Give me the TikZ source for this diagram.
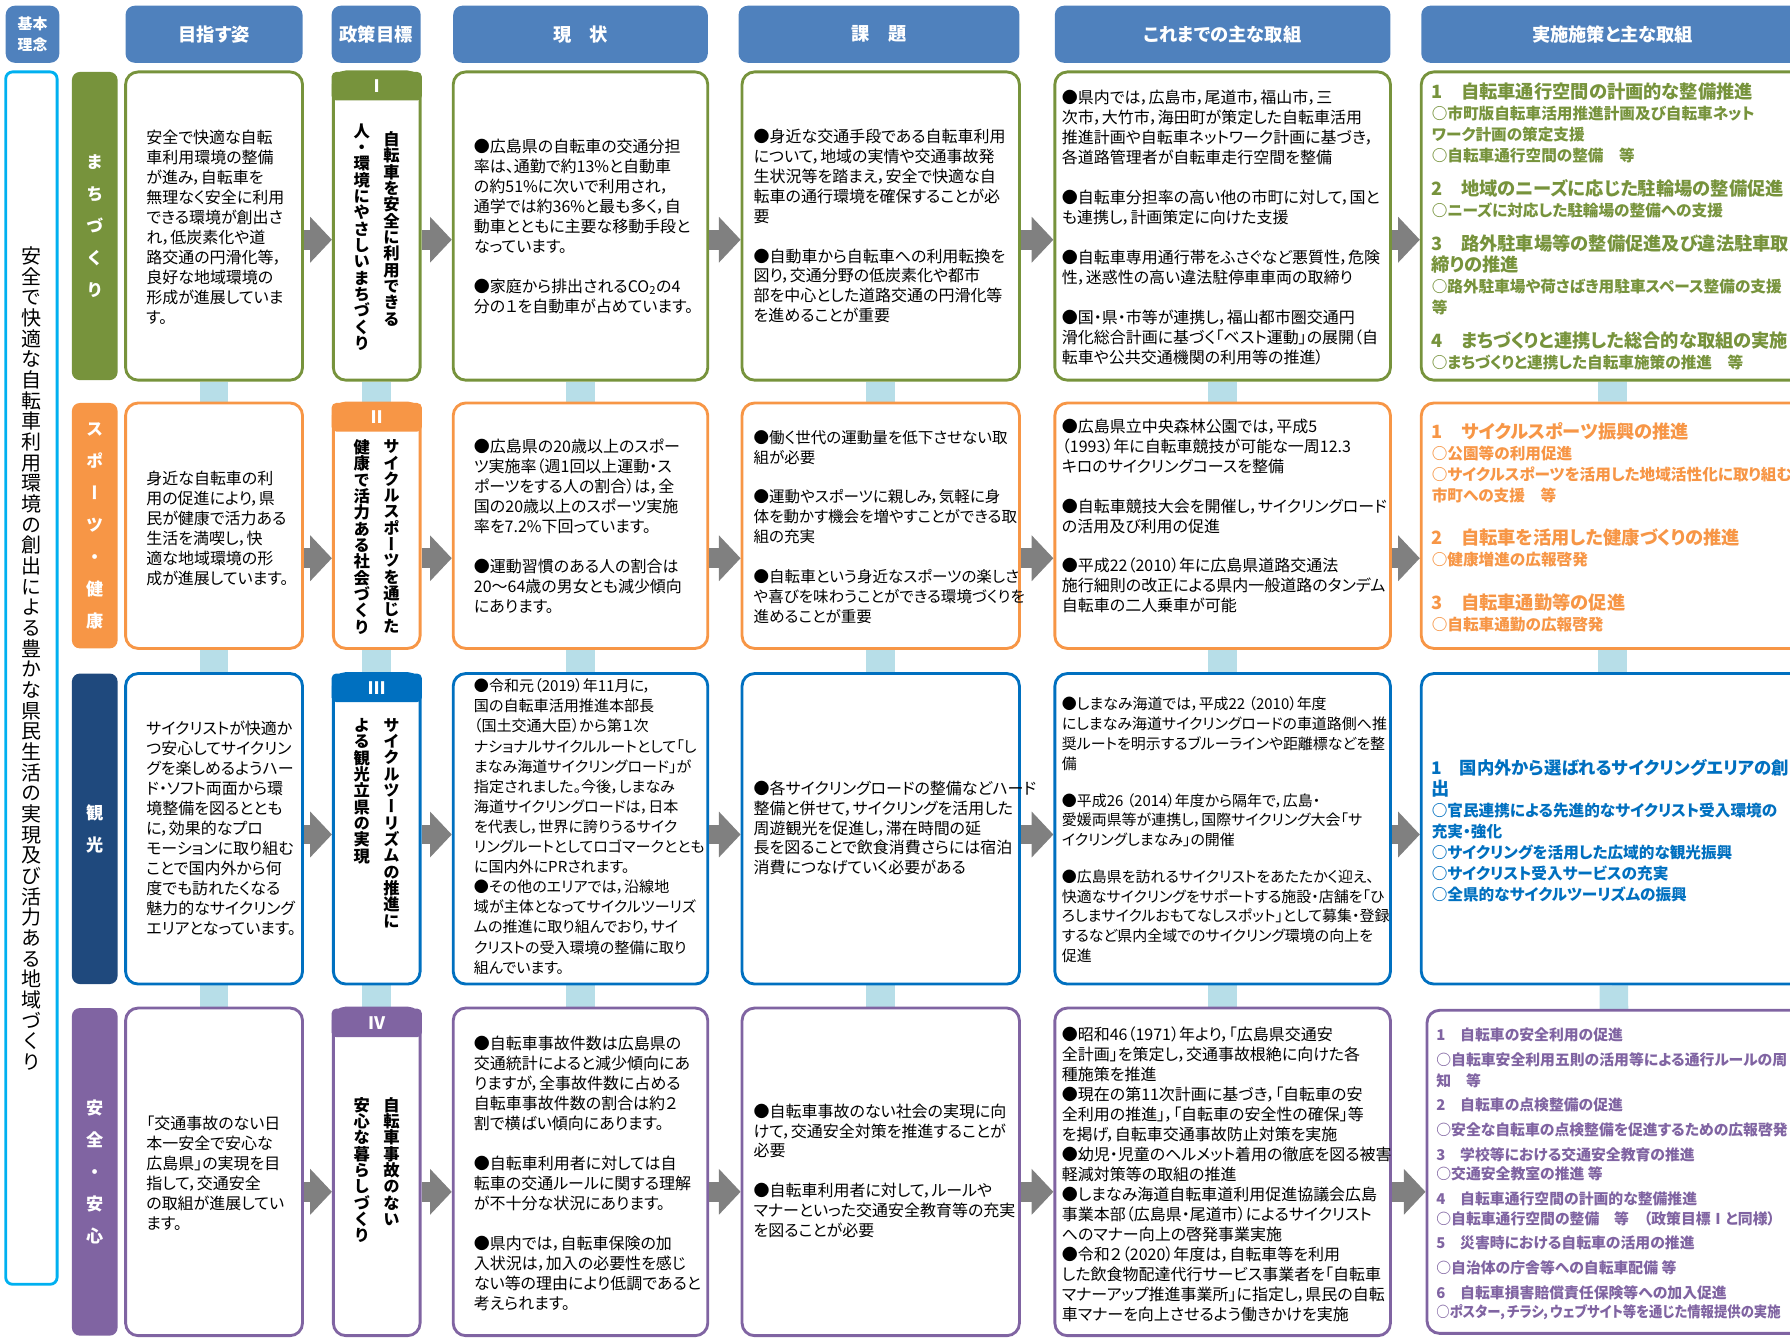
\documentclass[tikz,border=0pt]{standalone}
\usepackage{fontspec}
\setmainfont{Noto Sans CJK JP}[RawFeature=+palt]
\newfontfamily\tatefont{Noto Sans CJK JP}[RawFeature=+vert]
\usetikzlibrary{arrows.meta,backgrounds}

\definecolor{headblue}{HTML}{4F81BD}
\definecolor{kihonblue}{HTML}{00B0F0}
\definecolor{machi}{HTML}{77933C}
\definecolor{sports}{HTML}{F79646}
\definecolor{kankou}{HTML}{1F497D}
\definecolor{kankoub}{HTML}{0070C0}
\definecolor{anzen}{HTML}{8064A2}
\definecolor{linkblue}{HTML}{B7DEE8}
\definecolor{arrowgray}{HTML}{808080}

% vertical writing: one character per line
\makeatletter
\newcommand\tate[1]{\vbox{\lineskiplimit=-50pt\relax\tate@#1\@nil}}
\def\tate@#1{\ifx#1\@nil\else\hbox to 1em{\hss#1\hss}\expandafter\tate@\fi}
\makeatother
\newcommand\planhead[1]{{\fontsize{16}{18.4}\selectfont #1}}

\begin{document}
\begin{tikzpicture}[x=1pt,y=-1pt]
  \tikzset{
    head box/.style={fill=headblue, rounded corners=8pt, inner sep=0pt, minimum height=50pt, text=white, font=\fontsize{16}{19}\selectfont\bfseries},
    row label/.style={rounded corners=7pt, inner sep=0pt, minimum width=40pt, text=white, font=\tatefont\fontsize{15}{28}\selectfont\bfseries},
    item box/.style={draw, fill=white, line width=2.5pt, rounded corners=11pt, inner sep=0pt},
    goal tab/.style={rounded corners=4pt, inner sep=0pt, minimum width=79pt, minimum height=25pt, text=white, font=\fontsize{15}{16}\selectfont\bfseries},
    goal text/.style={anchor=north, inner sep=0pt, font=\tatefont\fontsize{14.3}{14.3}\selectfont\bfseries},
    body text/.style={anchor=north west, align=left, inner sep=0pt, font=\fontsize{14}{17.5}\selectfont},
    plan text/.style={anchor=north west, align=left, inner sep=0pt, font=\fontsize{13.7}{18.4}\selectfont\bfseries},
    link bar/.style={line width=25pt, linkblue},
    step arrow/.style={line width=17.5pt, arrowgray, -{Triangle[length=19pt,width=39pt]}}
  }
  \useasboundingbox (0,0) rectangle (1568,1173);
  \clip (0,0) rectangle (1568,1173);

  % headers
  \node[head box, minimum width=47pt, align=center, font=\fontsize{13}{18}\selectfont\bfseries] (h0) at (28.5,30) {基本\\理念};
  \node[head box, minimum width=155pt] (h1) at (187.5,30) {目指す姿};
  \node[head box, minimum width=78pt] (h2) at (329.5,30) {政策目標};
  \node[head box, minimum width=223pt] (h3) at (508.5,30) {現　状};
  \node[head box, minimum width=246pt] (h4) at (770,30) {課　題};
  \node[head box, minimum width=294pt] (h5) at (1071,30) {これまでの主な取組};
  \node[head box, minimum width=335pt] (h6) at (1412.5,30) {実施施策と主な取組};

  % basic idea
  \node[item box, draw=kihonblue, rounded corners=6pt, minimum width=45pt, minimum height=1062pt] (kihon) at (27.5,594) {};
  \node[anchor=north, inner sep=0pt, font=\tatefont\fontsize{17.5}{18.1}\selectfont] (kihont) at (27.5,216) {\tate{安全で快適な自転車利用環境の創出による豊かな県民生活の実現及び活力ある地域づくり}};

  % row labels
  \node[row label, fill=machi, minimum height=270pt] (r1) at (83,198) {\tate{まちづくり}};
  \node[row label, fill=sports, minimum height=215pt] (r2) at (83,460.5) {\tate{スポーツ・健康}};
  \node[row label, fill=kankou, minimum height=272pt] (r3) at (83,726) {\tate{観光}};
  \node[row label, fill=anzen, minimum height=287pt] (r4) at (83,1026.5) {\tate{安全・安心}};

  % row 1
  \node[item box, draw=machi, minimum width=155pt, minimum height=270pt] (m1) at (187.5,198) {};
  \node[item box, draw=machi, minimum width=76pt, minimum height=270pt] (g1) at (330,198) {};
  \node[goal tab, fill=machi] (g1n) at (330,75.5) {Ⅰ};
  \node[item box, draw=machi, minimum width=223pt, minimum height=270pt] (c1) at (508.5,198) {};
  \node[item box, draw=machi, minimum width=243pt, minimum height=270pt] (k1) at (771.5,198) {};
  \node[item box, draw=machi, minimum width=294pt, minimum height=270pt] (t1) at (1071,198) {};
  \node[item box, draw=machi, minimum width=335pt, minimum height=270pt] (j1) at (1412.5,198) {};

  % row 2
  \node[item box, draw=sports, minimum width=155pt, minimum height=215pt] (m2) at (187.5,460.5) {};
  \node[item box, draw=sports, minimum width=76pt, minimum height=215pt] (g2) at (330,460.5) {};
  \node[goal tab, fill=sports] (g2n) at (330,365.5) {Ⅱ};
  \node[item box, draw=sports, minimum width=223pt, minimum height=215pt] (c2) at (508.5,460.5) {};
  \node[item box, draw=sports, minimum width=243pt, minimum height=215pt] (k2) at (771.5,460.5) {};
  \node[item box, draw=sports, minimum width=294pt, minimum height=215pt] (t2) at (1071,460.5) {};
  \node[item box, draw=sports, minimum width=335pt, minimum height=215pt] (j2) at (1412.5,460.5) {};

  % row 3
  \node[item box, draw=kankoub, minimum width=155pt, minimum height=272pt] (m3) at (187.5,726) {};
  \node[item box, draw=kankoub, minimum width=76pt, minimum height=272pt] (g3) at (330,726) {};
  \node[goal tab, fill=kankoub] (g3n) at (330,602.5) {Ⅲ};
  \node[item box, draw=kankoub, minimum width=223pt, minimum height=272pt] (c3) at (508.5,726) {};
  \node[item box, draw=kankoub, minimum width=243pt, minimum height=272pt] (k3) at (771.5,726) {};
  \node[item box, draw=kankoub, minimum width=294pt, minimum height=272pt] (t3) at (1071,726) {};
  \node[item box, draw=kankoub, minimum width=335pt, minimum height=272pt] (j3) at (1412.5,726) {};

  % row 4
  \node[item box, draw=anzen, minimum width=155pt, minimum height=287pt] (m4) at (187.5,1026.5) {};
  \node[item box, draw=anzen, minimum width=76pt, minimum height=287pt] (g4) at (330,1026.5) {};
  \node[goal tab, fill=anzen] (g4n) at (330,896) {Ⅳ};
  \node[item box, draw=anzen, minimum width=223pt, minimum height=287pt] (c4) at (508.5,1026.5) {};
  \node[item box, draw=anzen, minimum width=243pt, minimum height=287pt] (k4) at (771.5,1026.5) {};
  \node[item box, draw=anzen, minimum width=294pt, minimum height=287pt] (t4) at (1071,1026.5) {};
  \node[item box, draw=anzen, minimum width=330pt, minimum height=283pt] (j4) at (1415,1026.5) {};

  % policy goals, read right column first
  \node[goal text] (g1a) at (343,115) {\tate{自転車を安全に利用できる}};
  \node[goal text] (g1b) at (317,108) {\tate{人・環境にやさしいまちづくり}};
  \node[goal text] (g2a) at (343,385) {\tate{サイクルスポーツを通じた}};
  \node[goal text] (g2b) at (317,385) {\tate{健康で活力ある社会づくり}};
  \node[goal text] (g3a) at (343,629) {\tate{サイクルツーリズムの推進に}};
  \node[goal text] (g3b) at (317,629) {\tate{よる観光立県の実現}};
  \node[goal text] (g4a) at (343,961) {\tate{自転車事故のない}};
  \node[goal text] (g4b) at (317,961) {\tate{安心な暮らしづくり}};

  % vision
  \node[body text] (m1t) at (128,113.5) {安全で快適な自転\\車利用環境の整備\\が進み，自転車を\\無理なく安全に利用\\できる環境が創出さ\\れ，低炭素化や道\\路交通の円滑化等，\\良好な地域環境の\\形成が進展していま\\す。};
  \node[body text] (m2t) at (128,412.5) {身近な自転車の利\\用の促進により，県\\民が健康で活力ある\\生活を満喫し，快\\適な地域環境の形\\成が進展しています。};
  \node[body text] (m3t) at (128,631.5) {サイクリストが快適か\\つ安心してサイクリン\\グを楽しめるようハー\\ド・ソフト両面から環\\境整備を図るととも\\に，効果的なプロ\\モーションに取り組む\\ことで国内外から何\\度でも訪れたくなる\\魅力的なサイクリング\\エリアとなっています。};
  \node[body text] (m4t) at (128,977.5) {「交通事故のない日\\本一安全で安心な\\広島県」の実現を目\\指して，交通安全\\の取組が進展してい\\ます。};

  % present state
  \node[body text] (c1t) at (415,121.5) {●広島県の自転車の交通分担\\率は、通勤で約13\%と自動車\\の約51\%に次いで利用され，\\通学では約36\%と最も多く，自\\動車とともに主要な移動手段と\\なっています。\\[17.5pt]●家庭から排出されるCO\textsubscript{2}の4\\分の１を自動車が占めています。};
  \node[body text] (c2t) at (415,384.5) {●広島県の20歳以上のスポー\\ツ実施率（週1回以上運動・ス\\ポーツをする人の割合）は，全\\国の20歳以上のスポーツ実施\\率を7.2\%下回っています。\\[17.5pt]●運動習慣のある人の割合は\\20～64歳の男女とも減少傾向\\にあります。};
  \node[body text, font=\fontsize{13.2}{17.6}\selectfont] (c3t) at (415,594.5) {●令和元（2019）年11月に，\\国の自転車活用推進本部長\\（国土交通大臣）から第１次\\ナショナルサイクルルートとして「し\\まなみ海道サイクリングロード」が\\指定されました。今後，しまなみ\\海道サイクリングロードは，日本\\を代表し，世界に誇りうるサイク\\リングルートとしてロゴマークととも\\に国内外にPRされます。\\●その他のエリアでは，沿線地\\域が主体となってサイクルツーリズ\\ムの推進に取り組んでおり，サイ\\クリストの受入環境の整備に取り\\組んでいます。};
  \node[body text] (c4t) at (415,907.5) {●自転車事故件数は広島県の\\交通統計によると減少傾向にあ\\りますが，全事故件数に占める\\自転車事故件数の割合は約２\\割で横ばい傾向にあります。\\[17.5pt]●自転車利用者に対しては自\\転車の交通ルールに関する理解\\が不十分な状況にあります。\\[17.5pt]●県内では，自転車保険の加\\入状況は，加入の必要性を感じ\\ない等の理由により低調であると\\考えられます。};

  % issues
  \node[body text] (k1t) at (660,112.5) {●身近な交通手段である自転車利用\\について，地域の実情や交通事故発\\生状況等を踏まえ，安全で快適な自\\転車の通行環境を確保することが必\\要\\[17.5pt]●自動車から自転車への利用転換を\\図り，交通分野の低炭素化や都市\\部を中心とした道路交通の円滑化等\\を進めることが重要};
  \node[body text, font=\fontsize{13.6}{17.5}\selectfont] (k2t) at (660,376.5) {●働く世代の運動量を低下させない取\\組が必要\\[17.5pt]●運動やスポーツに親しみ，気軽に身\\体を動かす機会を増やすことができる取\\組の充実\\[17.5pt]●自転車という身近なスポーツの楽しさ\\や喜びを味わうことができる環境づくりを\\進めることが重要};
  \node[body text] (k3t) at (660,683.5) {●各サイクリングロードの整備などハード\\整備と併せて，サイクリングを活用した\\周遊観光を促進し，滞在時間の延\\長を図ることで飲食消費さらには宿泊\\消費につなげていく必要がある};
  \node[body text] (k4t) at (660,966.5) {●自転車事故のない社会の実現に向\\けて，交通安全対策を推進することが\\必要\\[17.5pt]●自転車利用者に対して，ルールや\\マナーといった交通安全教育等の充実\\を図ることが必要};

  % past work
  \node[body text] (t1t) at (930,78.5) {●県内では，広島市，尾道市，福山市，三\\次市，大竹市，海田町が策定した自転車活用\\推進計画や自転車ネットワーク計画に基づき，\\各道路管理者が自転車走行空間を整備\\[17.5pt]●自転車分担率の高い他の市町に対して，国と\\も連携し，計画策定に向けた支援\\[17.5pt]●自転車専用通行帯をふさぐなど悪質性，危険\\性，迷惑性の高い違法駐停車車両の取締り\\[17.5pt]●国・県・市等が連携し，福山都市圏交通円\\滑化総合計画に基づく「ベスト運動」の展開（自\\転車や公共交通機関の利用等の推進）};
  \node[body text] (t2t) at (930,366.5) {●広島県立中央森林公園では，平成5\\（1993）年に自転車競技が可能な一周12.3\\キロのサイクリングコースを整備\\[17.5pt]●自転車競技大会を開催し，サイクリングロード\\の活用及び利用の促進\\[17.5pt]●平成22（2010）年に広島県道路交通法\\施行細則の改正による県内一般道路のタンデム\\自転車の二人乗車が可能};
  \node[body text, font=\fontsize{13.1}{17.3}\selectfont] (t3t) at (930,610.5) {●しまなみ海道では，平成22 （2010）年度\\にしまなみ海道サイクリングロードの車道路側へ推\\奨ルートを明示するブルーラインや距離標などを整\\備\\[15pt]●平成26 （2014）年度から隔年で，広島・\\愛媛両県等が連携し，国際サイクリング大会「サ\\イクリングしまなみ」の開催\\[15pt]●広島県を訪れるサイクリストをあたたかく迎え、\\快適なサイクリングをサポートする施設・店舗を「ひ\\ろしまサイクルおもてなしスポット」として募集・登録\\するなど県内全域でのサイクリング環境の向上を\\促進};
  \node[body text] (t4t) at (930,899.5) {●昭和46（1971）年より，「広島県交通安\\全計画」を策定し，交通事故根絶に向けた各\\種施策を推進\\●現在の第11次計画に基づき，「自転車の安\\全利用の推進」，「自転車の安全性の確保」等\\を掲げ，自転車交通事故防止対策を実施\\●幼児・児童のヘルメット着用の徹底を図る被害\\軽減対策等の取組の推進\\●しまなみ海道自転車道利用促進協議会広島\\事業本部（広島県・尾道市）によるサイクリスト\\へのマナー向上の啓発事業実施\\●令和２（2020）年度は，自転車等を利用\\した飲食物配達代行サービス事業者を「自転車\\マナーアップ推進事業所」に指定し，県民の自転\\車マナーを向上させるよう働きかけを実施};

  % measures
  \node[plan text, text=machi] (j1t) at (1254,72) {\planhead{1　自転車通行空間の計画的な整備推進}\\○市町版自転車活用推進計画及び自転車ネット\\ワーク計画の策定支援\\○自転車通行空間の整備　等\\[11.5pt]\planhead{2　地域のニーズに応じた駐輪場の整備促進}\\○ニーズに対応した駐輪場の整備への支援\\[11.5pt]\planhead{3　路外駐車場等の整備促進及び違法駐車取}\\\planhead{締りの推進}\\○路外駐車場や荷さばき用駐車スペース整備の支援\\等\\[11.5pt]\planhead{4　まちづくりと連携した総合的な取組の実施}\\○まちづくりと連携した自転車施策の推進　等};
  \node[plan text, text=sports] (j2t) at (1254,370) {\planhead{1　サイクルスポーツ振興の推進}\\○公園等の利用促進\\○サイクルスポーツを活用した地域活性化に取り組む\\市町への支援　等\\[19.5pt]\planhead{2　自転車を活用した健康づくりの推進}\\○健康増進の広報啓発\\[19.5pt]\planhead{3　自転車通勤等の促進}\\○自転車通勤の広報啓発};
  \node[plan text, text=kankoub] (j3t) at (1254,665) {{\fontsize{15.2}{18.4}\selectfont 1　国内外から選ばれるサイクリングエリアの創}\\\planhead{出}\\○官民連携による先進的なサイクリスト受入環境の\\充実・強化\\○サイクリングを活用した広域的な観光振興\\○サイクリスト受入サービスの充実\\○全県的なサイクルツーリズムの振興};
  \node[plan text, text=anzen, font=\fontsize{13}{17}\selectfont\bfseries] (j4t) at (1258,900) {1　自転車の安全利用の促進\\[5pt]○自転車安全利用五則の活用等による通行ルールの周\\[1pt]知　等\\[4pt]2　自転車の点検整備の促進\\[5pt]○安全な自転車の点検整備を促進するための広報啓発\\[5pt]3　学校等における交通安全教育の推進\\○交通安全教室の推進 等\\[5pt]4　自転車通行空間の計画的な整備推進\\○自転車通行空間の整備　等　（政策目標Ⅰと同様）\\[4pt]5　災害時における自転車の活用の推進\\[5pt]○自治体の庁舎等への自転車配備 等\\[5pt]6　自転車損害賠償責任保険等への加入促進\\\scalebox{0.9}[1]{○ポスター，チラシ，ウェブサイト等を通じた情報提供の実施}};

  % arrows between columns
  \draw[step arrow] ([yshift=-12pt]m1.east) -- ([yshift=-12pt]g1.west);
  \draw[step arrow] ([yshift=-12pt]g1.east) -- ([yshift=-12pt]c1.west);
  \draw[step arrow] ([yshift=-12pt]c1.east) -- ([yshift=-12pt]k1.west);
  \draw[step arrow] ([yshift=-12pt]k1.east) -- ([yshift=-12pt]t1.west);
  \draw[step arrow] ([yshift=-12pt]t1.east) -- ([yshift=-12pt]j1.west);
  \draw[step arrow] ([yshift=-28.5pt]m2.east) -- ([yshift=-28.5pt]g2.west);
  \draw[step arrow] ([yshift=-28.5pt]g2.east) -- ([yshift=-28.5pt]c2.west);
  \draw[step arrow] ([yshift=-28.5pt]c2.east) -- ([yshift=-28.5pt]k2.west);
  \draw[step arrow] ([yshift=-28.5pt]k2.east) -- ([yshift=-28.5pt]t2.west);
  \draw[step arrow] ([yshift=-28.5pt]t2.east) -- ([yshift=-28.5pt]j2.west);
  \draw[step arrow] ([yshift=-5pt]m3.east) -- ([yshift=-5pt]g3.west);
  \draw[step arrow] ([yshift=-5pt]g3.east) -- ([yshift=-5pt]c3.west);
  \draw[step arrow] ([yshift=-5pt]c3.east) -- ([yshift=-5pt]k3.west);
  \draw[step arrow] ([yshift=-5pt]k3.east) -- ([yshift=-5pt]t3.west);
  \draw[step arrow] ([yshift=-5pt]t3.east) -- ([yshift=-5pt]j3.west);
  \draw[step arrow] ([yshift=-17.5pt]m4.east) -- ([yshift=-17.5pt]g4.west);
  \draw[step arrow] ([yshift=-17.5pt]g4.east) -- ([yshift=-17.5pt]c4.west);
  \draw[step arrow] ([yshift=-17.5pt]c4.east) -- ([yshift=-17.5pt]k4.west);
  \draw[step arrow] ([yshift=-17.5pt]k4.east) -- ([yshift=-17.5pt]t4.west);
  \draw[step arrow] ([yshift=-17.5pt]t4.east) -- ([yshift=-17.5pt]j4.west);

  % links between rows
  \begin{scope}[on background layer]
    \draw[link bar] (m1) -- (m2) -- (m3) -- (m4);
    \draw[link bar] (g1) -- (g2) -- (g3) -- (g4);
    \draw[link bar] (c1) -- (c2) -- (c3) -- (c4);
    \draw[link bar] (k1) -- (k2) -- (k3) -- (k4);
    \draw[link bar] (t1) -- (t2) -- (t3) -- (t4);
    \draw[link bar] (j1) -- (j2) -- (j3) -- (j4);
  \end{scope}
\end{tikzpicture}
\end{document}
